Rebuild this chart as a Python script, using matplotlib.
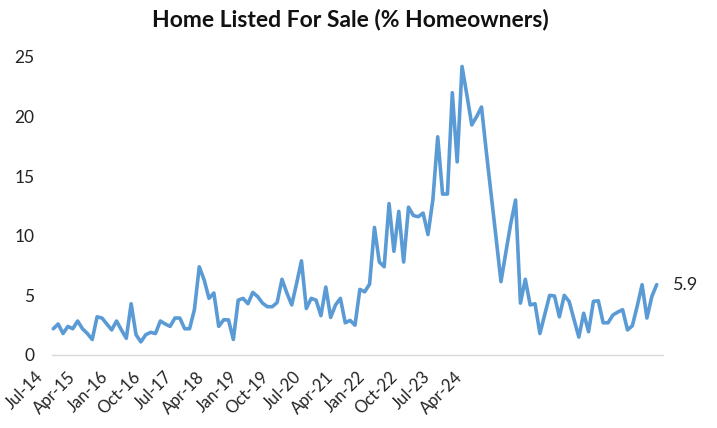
import matplotlib
matplotlib.use("Agg")
import matplotlib.pyplot as plt

plt.rcParams["font.family"] = ["Lato", "DejaVu Sans"]

# monthly share of homeowners who listed their home for sale (%), Jul-14 onward
LISTED = [2.2, 2.6, 1.8, 2.4, 2.2, 2.85, 2.2, 1.8, 1.3, 3.2,
          3.1, 2.6, 2.1, 2.85, 2.1, 1.4, 4.3, 1.7, 1.1, 1.7,
          1.9, 1.8, 2.85, 2.6, 2.4, 3.1, 3.1, 2.2, 2.2, 3.8,
          7.4, 6.3, 4.75, 5.2, 2.4, 2.95, 2.95, 1.3, 4.6, 4.75,
          4.3, 5.25, 4.9, 4.35, 4.05, 4.05, 4.4, 6.35, 5.2, 4.2,
          6.0, 7.9, 3.9, 4.75, 4.6, 3.3, 5.7, 3.15, 4.2, 4.75,
          2.7, 2.9, 2.5, 5.5, 5.3, 5.95, 10.7, 7.8, 7.4, 12.7,
          8.7, 12.05, 7.8, 12.4, 11.7, 11.6, 11.9, 10.1, 13.0, 18.3,
          13.5, 13.5, 22.0, 16.2, 24.2, 21.8, 19.3, 20.0, 20.8, 17.0,
          13.4, 9.8, 6.15, 8.6, 11.0, 13.0, 4.35, 6.35, 4.2, 4.3,
          1.8, 3.4, 5.0, 4.95, 3.2, 5.0, 4.5, 3.0, 1.5, 3.5,
          1.95, 4.5, 4.55, 2.7, 2.7, 3.35, 3.6, 3.8, 2.1, 2.45,
          4.1, 5.9, 3.1, 4.9, 5.9]

TICK_LABELS = ["Jul-14", "Apr-15", "Jan-16", "Oct-16", "Jul-17", "Apr-18",
               "Jan-19", "Oct-19", "Jul-20", "Apr-21", "Jan-22", "Oct-22",
               "Jul-23", "Apr-24"]
Y_TICKS = [0, 5, 10, 15, 20, 25]

LINE_COL = "#5B9BD5"

# the category labels in the source sit closer together than the points
LABEL_START = -1.4
LABEL_STEP = 6.62

fig = plt.figure(figsize=(7.17, 4.28), dpi=100)
ax = fig.add_axes([0.0558, 0.1706, 0.8689, 0.6963])

xs = list(range(len(LISTED)))
ax.plot(xs, LISTED, color=LINE_COL, lw=2.6, solid_joinstyle="round",
        solid_capstyle="round")

last = LISTED[-1]
ax.annotate(f"{last:.1f}", xy=(xs[-1], last), xytext=(12, 0),
            textcoords="offset points", va="center", ha="left",
            fontsize=13, color="#222222")

ax.set_xlim(-2.73, 125.3)
ax.set_ylim(0, 25)
ax.set_yticks(Y_TICKS)
ax.set_yticklabels([str(t) for t in Y_TICKS], fontsize=12.5)

ticks = [LABEL_START + k * LABEL_STEP for k in range(len(TICK_LABELS))]
ax.set_xticks(ticks)
ax.set_xticklabels(TICK_LABELS, rotation=45, ha="right", va="top", fontsize=12)
ax.tick_params(axis="both", length=0, colors="#222222")
ax.tick_params(axis="x", pad=10)
ax.tick_params(axis="y", pad=4)

for s in ("top", "right", "left"):
    ax.spines[s].set_visible(False)
ax.spines["bottom"].set_color("#D9D9D9")
ax.spines["bottom"].set_linewidth(1.0)
ax.spines["bottom"].set_bounds(-0.3, 125.3)

fig.text(0.488, 0.955, "Home Listed For Sale (% Homeowners)", ha="center",
         va="center", fontsize=16.5, fontweight="bold", color="#111111")

fig.savefig("out.png", dpi=100)
